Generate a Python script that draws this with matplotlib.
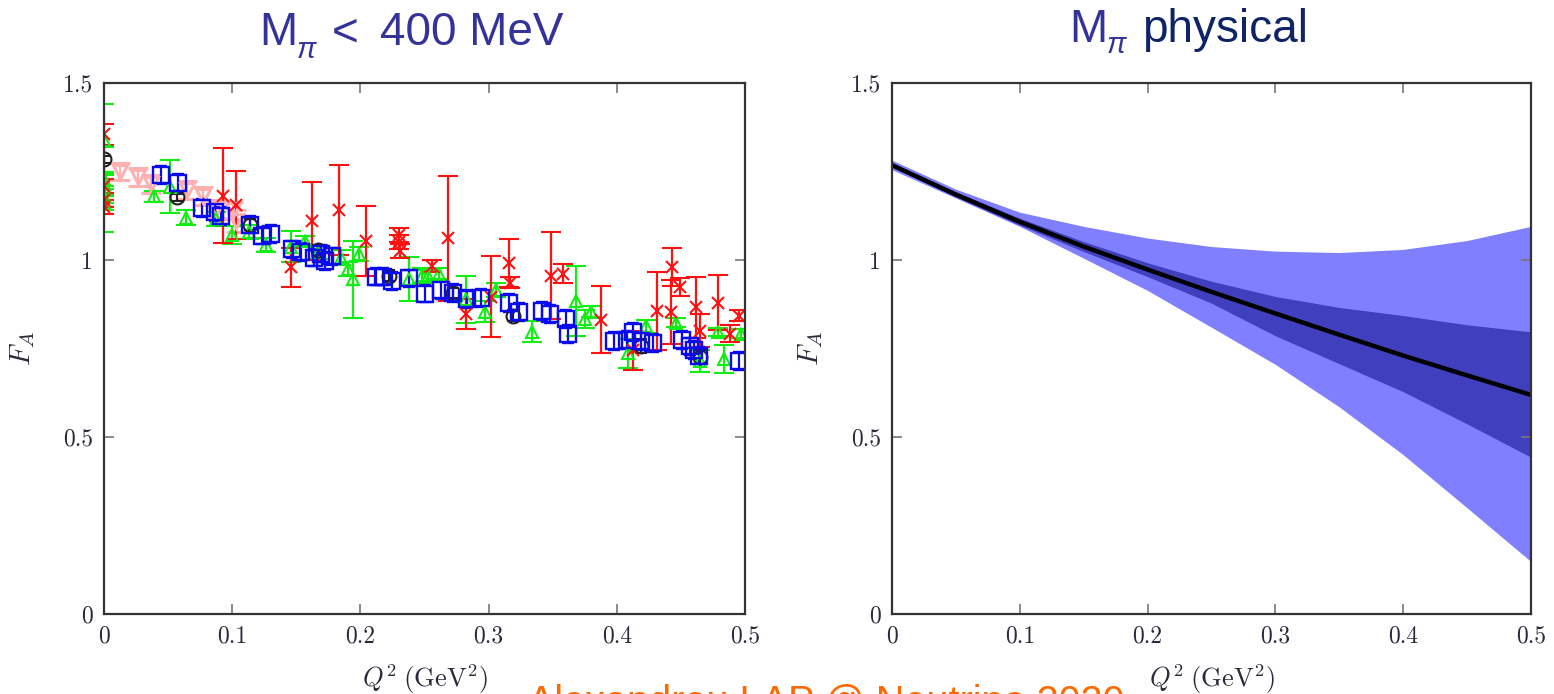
import matplotlib
matplotlib.use("Agg")
import matplotlib.pyplot as plt
import numpy as np

W, H = 1554, 694

# ---------------- data: left panel (M_pi < 400 MeV) ----------------
red_x = [0, 0, 0, 0, 0.0926, 0.103, 0.146, 0.162, 0.183, 0.204, 0.230, 0.230, 0.231,
         0.256, 0.268, 0.282, 0.302, 0.316, 0.317, 0.349, 0.358, 0.388, 0.413,
         0.431, 0.442, 0.443, 0.449, 0.462, 0.465, 0.479, 0.488, 0.495]
red_y = [1.355, 1.17, 1.15, 1.21, 1.182, 1.155, 0.979, 1.11, 1.141, 1.054, 1.07, 1.05, 1.025,
         0.982, 1.061, 0.848, 0.896, 0.992, 0.936, 0.956, 0.961, 0.831, 0.745,
         0.856, 0.854, 0.98, 0.923, 0.866, 0.80, 0.879, 0.792, 0.843]
red_e = [0.03, 0.02, 0.02, 0.02, 0.135, 0.097, 0.055, 0.11, 0.128, 0.098, 0.02, 0.02, 0.02,
         0.017, 0.176, 0.043, 0.114, 0.067, 0.015, 0.122, 0.027, 0.095, 0.055,
         0.11, 0.09, 0.053, 0.025, 0.085, 0.047, 0.078, 0.023, 0.015]

green_x = [0, 0, 0, 0, 0, 0, 0.039, 0.0515, 0.064, 0.087, 0.100, 0.113, 0.126, 0.146, 0.157,
           0.167, 0.185, 0.194, 0.190, 0.199, 0.238, 0.248, 0.253, 0.261, 0.282,
           0.297, 0.306, 0.334, 0.368, 0.375, 0.380, 0.409, 0.423, 0.446, 0.465,
           0.479, 0.484, 0.497]
green_y = [1.34, 1.20, 1.23, 1.18, 1.16, 1.215, 1.18, 1.207, 1.12, 1.115, 1.07, 1.079, 1.043, 1.038, 1.054,
           1.023, 1.007, 0.945, 0.975, 1.018, 0.946, 0.956, 0.956, 0.961, 0.889,
           0.854, 0.915, 0.797, 0.884, 0.833, 0.854, 0.736, 0.813, 0.823, 0.715,
           0.797, 0.72, 0.792]
green_e = [0.10, 0.12, 0.02, 0.02, 0.02, 0.03, 0.015, 0.075, 0.02, 0.02, 0.025, 0.02, 0.02, 0.045, 0.015,
           0.02, 0.02, 0.11, 0.02, 0.02, 0.062, 0.02, 0.015, 0.015, 0.066,
           0.03, 0.02, 0.03, 0.10, 0.025, 0.015, 0.04, 0.018, 0.012, 0.03,
           0.012, 0.04, 0.012]

pink_x = [0.0125, 0.0267, 0.037, 0.065, 0.077, 0.087, 0.101, 0.103]
pink_y = [1.25, 1.235, 1.215, 1.197, 1.18, 1.145, 1.14, 1.11]
pink_e = [0.025, 0.025, 0.025, 0.025, 0.025, 0.025, 0.025, 0.03]

black_x = [0, 0.057, 0.114, 0.167, 0.222, 0.272, 0.319, 0.419, 0.465]
black_y = [1.285, 1.177, 1.10, 1.028, 0.956, 0.907, 0.843, 0.756, 0.725]
black_e = [0.01, 0.01, 0.015, 0.015, 0.015, 0.015, 0.015, 0.02, 0.02]

blue_x = [0.0445, 0.0576, 0.0767, 0.0866, 0.0916, 0.114, 0.123, 0.130, 0.147, 0.154,
          0.164, 0.169, 0.172, 0.178, 0.212, 0.218, 0.225, 0.238, 0.250, 0.263,
          0.272, 0.283, 0.294, 0.316, 0.324, 0.342, 0.348, 0.360, 0.362, 0.398,
          0.408, 0.413, 0.419, 0.428, 0.451, 0.457, 0.460, 0.464, 0.495]
blue_y = [1.24, 1.218, 1.146, 1.136, 1.125, 1.10, 1.069, 1.074, 1.03, 1.023,
          1.007, 1.018, 0.997, 1.01, 0.953, 0.953, 0.941, 0.948, 0.905, 0.915,
          0.907, 0.889, 0.892, 0.879, 0.854, 0.856, 0.848, 0.833, 0.79, 0.772,
          0.774, 0.797, 0.772, 0.766, 0.775, 0.756, 0.746, 0.730, 0.715]
blue_e = [0.025] * len(blue_x)

# ---------------- data: right panel (M_pi physical) ----------------
phys_q2 = [0.0, 0.05, 0.10, 0.15, 0.20, 0.25, 0.30, 0.35, 0.40, 0.45, 0.50]
phys_central = [1.268, 1.185, 1.108, 1.038, 0.973, 0.910, 0.849, 0.789, 0.730, 0.674, 0.619]
phys_inner_hi = [1.273, 1.192, 1.118, 1.052, 0.992, 0.940, 0.897, 0.866, 0.843, 0.817, 0.797]
phys_inner_lo = [1.262, 1.178, 1.098, 1.024, 0.953, 0.878, 0.786, 0.707, 0.628, 0.537, 0.443]
phys_outer_hi = [1.282, 1.200, 1.135, 1.095, 1.062, 1.038, 1.025, 1.021, 1.030, 1.055, 1.095]
phys_outer_lo = [1.255, 1.175, 1.095, 1.005, 0.914, 0.810, 0.705, 0.585, 0.450, 0.300, 0.148]

xticks = [0, 0.1, 0.2, 0.3, 0.4, 0.5]
xticklabels = ["0", "0.1", "0.2", "0.3", "0.4", "0.5"]
yticks = [0, 0.5, 1, 1.5]
yticklabels = ["0", "0.5", "1", "1.5"]

# ---------------- styling ----------------
plt.rcParams['mathtext.fontset'] = 'cm'
plt.rcParams['font.family'] = ['cmr10', 'DejaVu Serif']
plt.rcParams['axes.formatter.use_mathtext'] = True

fig = plt.figure(figsize=(W / 100, H / 100), dpi=100)
fig.patch.set_facecolor('white')


def ax_rect(x0, x1, ytop, ybot):
    return [x0 / W, 1 - ybot / H, (x1 - x0) / W, (ybot - ytop) / H]


axL = fig.add_axes(ax_rect(104, 745, 83, 614))
axR = fig.add_axes(ax_rect(892, 1531, 83, 614))

tick_col = '#2a2a3a'
for ax in (axL, axR):
    ax.set_xlim(0, 0.5)
    ax.set_ylim(0, 1.5)
    ax.set_xticks(xticks)
    ax.set_xticklabels(xticklabels)
    ax.set_yticks(yticks)
    ax.set_yticklabels(yticklabels)
    ax.tick_params(direction='in', length=7, width=1.2, color='#777777',
                   top=True, right=True, labelsize=17, labelcolor=tick_col, pad=8)
    for s in ax.spines.values():
        s.set_color('#333333')
        s.set_linewidth(1.6)
    ax.set_xlabel(r'$Q^2\;\mathrm{(GeV^2)}$', fontsize=19, color=tick_col)
    ax.xaxis.set_label_coords(0.5, -0.09)
    ax.set_ylabel(r'$F_A$', fontsize=21, color=tick_col)
    ax.yaxis.set_label_coords(-0.105, 0.5)

# left panel data
eb_kw = dict(linestyle='none', elinewidth=1.6, capthick=1.6)
axL.errorbar(pink_x, pink_y, yerr=pink_e, fmt='v', color='#FFB0B0', mfc='none',
             ms=10, mew=2.2, capsize=7, **eb_kw)
axL.errorbar(green_x, green_y, yerr=green_e, fmt='^', color='#11EE11', mfc='none',
             ms=8, mew=1.5, capsize=7, **eb_kw)
axL.errorbar(red_x, red_y, yerr=red_e, fmt='x', color='#FF1111',
             ms=8, mew=1.5, capsize=7, **eb_kw)
axL.errorbar(black_x, black_y, yerr=black_e, fmt='o', color='#222222', mfc='none',
             ms=10, mew=1.5, capsize=4, **eb_kw)
axL.errorbar(blue_x, blue_y, yerr=blue_e, fmt='s', color='#0A0AEE', mfc='none',
             ms=11, mew=1.7, capsize=4, **eb_kw)

# right panel bands
axR.fill_between(phys_q2, phys_outer_lo, phys_outer_hi, color='#7F7FFF', lw=0)
axR.fill_between(phys_q2, phys_inner_lo, phys_inner_hi, color='#4040BF', lw=0)
axR.plot(phys_q2, phys_central, color='black', lw=3.2)
for ax in (axL, axR):
    for s in ax.spines.values():
        s.set_zorder(5)


def ftext(px, py, s, **kw):
    fig.text(px / W, 1 - py / H, s, va='baseline', ha='left', **kw)


title_col = '#333399'
sans = ['Liberation Sans', 'DejaVu Sans']
ftext(259, 45, 'M', fontsize=33, color=title_col, family=sans)
ftext(297, 58, '\u03c0', fontsize=21, color=title_col, family=sans, style='italic')
ftext(332, 45, '<', fontsize=33, color=title_col, family=sans)
ftext(380, 45, '400 MeV', fontsize=33, color=title_col, family=sans)

ftext(1069, 42, 'M', fontsize=33, color=title_col, family=sans)
ftext(1107, 53, '\u03c0', fontsize=21, color=title_col, family=sans, style='italic')
ftext(1142, 42, 'physical', fontsize=33, color='#0E2466', family=sans)

ftext(528, 713, 'Alexandrou LAP @ Neutrino 2020', fontsize=28.5, color='#FF6A00', family=sans)

fig.savefig('out.png', dpi=100)
